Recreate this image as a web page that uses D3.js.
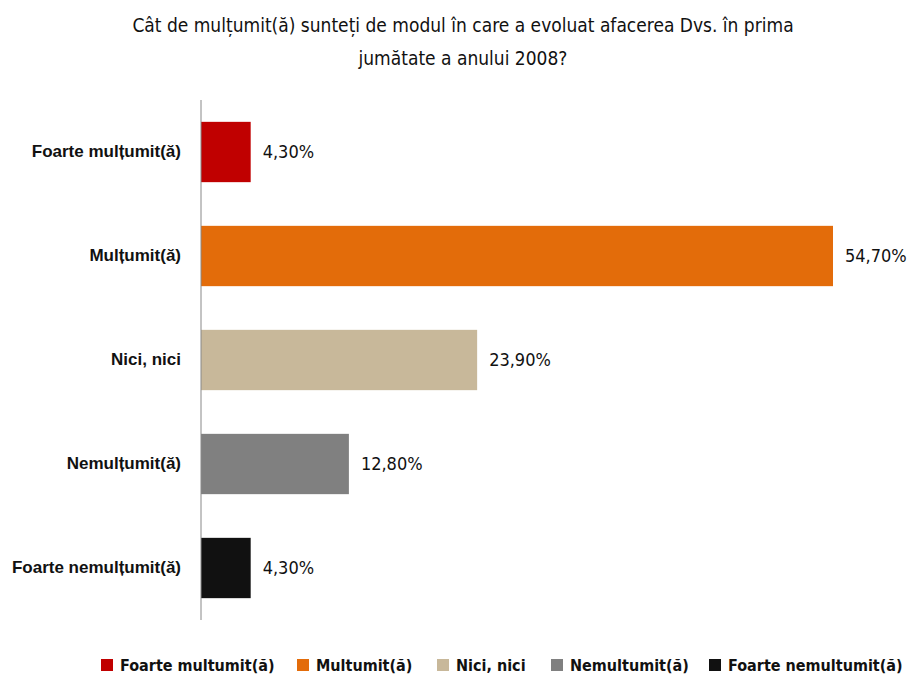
<!DOCTYPE html>
<html lang="ro">
<head>
<meta charset="UTF-8">
<title>Cât de mulțumit(ă) sunteți</title>
<script src="https://d3js.org/d3.v7.min.js"></script>
<style>
    body { margin: 0; background: #fff; }
    svg { font-family: "Liberation Sans Narrow", "DejaVu Sans Condensed", "Roboto Condensed", sans-serif; }
    .title { font-size: 19px; fill: #111; }
    .cat { font-size: 17px; font-weight: bold; fill: #111; }
    .val { font-size: 18px; fill: #111; }
    .leg { font-size: 16px; font-weight: bold; fill: #111; }
</style>
</head>
<body>
<script>
// data
const categories = ["Foarte mulțumit(ă)", "Mulțumit(ă)", "Nici, nici", "Nemulțumit(ă)", "Foarte nemulțumit(ă)"];
const values = [4.3, 54.7, 23.9, 12.8, 4.3];
const colors = ["#c00000", "#e36c0a", "#c8b89a", "#808080", "#111111"];
const legendLabels = ["Foarte multumit(ă)", "Multumit(ă)", "Nici, nici", "Nemultumit(ă)", "Foarte nemultumit(ă)"];

const w = 913, h = 674;
const svg = d3.select("body").append("svg").attr("width", w).attr("height", h);

const x = d3.scaleLinear().domain([0, 54.7]).range([201, 833]);
const y = d3.scaleBand().domain(categories).range([100, 620]).paddingInner(0.42).paddingOuter(0.21);

// title
svg.append("text").attr("class", "title").attr("text-anchor", "middle")
    .attr("x", 463).attr("y", 32).text("Cât de mulțumit(ă) sunteți de modul în care a evoluat afacerea Dvs. în prima");
svg.append("text").attr("class", "title").attr("text-anchor", "middle")
    .attr("x", 463).attr("y", 65).text("jumătate a anului 2008?");

// bars
svg.selectAll("rect.bar").data(values).enter().append("rect")
    .attr("class", "bar")
    .attr("x", x(0))
    .attr("y", (d, i) => y(categories[i]))
    .attr("width", d => x(d) - x(0))
    .attr("height", y.bandwidth())
    .attr("fill", (d, i) => colors[i]);

// value labels
svg.selectAll("text.val").data(values).enter().append("text")
    .attr("class", "val")
    .attr("x", d => x(d) + 12)
    .attr("y", (d, i) => y(categories[i]) + y.bandwidth() / 2)
    .attr("dy", "0.35em")
    .text(d => d3.format(".2f")(d).replace(".", ",") + "%");

// y axis
const yAxis = svg.append("g").attr("transform", `translate(${x(0)},0)`)
    .call(d3.axisLeft(y).tickSize(0).tickPadding(20));
yAxis.select(".domain").attr("stroke", "#888").attr("d", `M0,${y.range()[0]}V${y.range()[1]}`);
yAxis.selectAll(".tick text").attr("class", "cat").attr("font-size", null).attr("font-family", null);

// legend
const legX = [101, 297, 437, 551, 709];
const leg = svg.selectAll("g.leg").data(legendLabels).enter().append("g")
    .attr("transform", (d, i) => `translate(${legX[i]},665)`);
leg.append("rect").attr("x", 0).attr("y", -6).attr("width", 12).attr("height", 12)
    .attr("fill", (d, i) => colors[i]);
leg.append("text").attr("class", "leg").attr("x", 19).attr("dy", "0.35em").text(d => d);
</script>
</body>
</html>
